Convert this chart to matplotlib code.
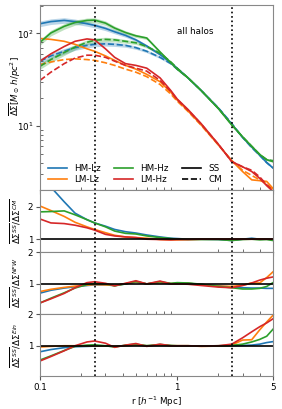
from matplotlib import pyplot as plt
from matplotlib import ticker
import numpy as np

plt.rcParams['figure.figsize'] = [2.82, 4.09]
plt.rcParams['figure.dpi'] = 100
plt.rcParams['font.size'] = 6.3
plt.rcParams['axes.edgecolor'] = '#888888'
plt.rcParams['xtick.color'] = '#555555'
plt.rcParams['ytick.color'] = '#555555'
plt.rcParams['xtick.labelcolor'] = 'black'
plt.rcParams['ytick.labelcolor'] = 'black'

r = [0.1, 0.12, 0.15, 0.18, 0.22, 0.25, 0.3, 0.35, 0.42, 0.5, 0.6, 0.75,
     0.9, 1.0, 1.2, 1.5, 2.0, 2.5, 3.0, 3.5, 4.0, 4.5, 5.0]

# mean Delta Sigma profiles, SS and CM centres
hm_lz_ss = [127, 134, 138, 134, 127, 122, 113, 104, 95, 85, 73, 59, 48, 42, 33, 24, 15.5, 10.4, 7.5, 5.9, 4.8, 4.0, 3.5]
hm_lz_cm = [50, 57, 64, 70, 74, 76, 77, 76, 74, 70, 64, 55, 47, 41, 33, 24, 15.6, 10.6, 7.5, 5.8, 4.8, 4.0, 3.5]
hm_hz_ss = [80, 101, 119, 131, 138, 139, 129, 114, 102, 94, 89, 63, 48, 41, 33, 24, 15.3, 10.2, 7.6, 6.0, 4.9, 4.3, 4.1]
hm_hz_cm = [44, 52, 62, 71, 80, 84, 86, 85, 82, 79, 72, 61, 49, 42, 33, 24, 15.4, 10.3, 7.6, 6.0, 4.9, 4.3, 4.2]
lm_lz_ss = [88, 86, 82, 76, 68, 64, 57, 51, 45, 41, 36, 30, 23, 19, 14.5, 10.2, 6.2, 4.2, 3.2, 2.6, 2.55, 2.5, 2.1]
lm_lz_cm = [46, 49, 52, 53, 52, 51, 48, 45, 41, 38, 34, 28, 22, 18.5, 14.3, 10.1, 6.2, 4.2, 3.3, 2.9, 2.6, 2.35, 2.05]
lm_hz_ss = [50, 60, 72, 82, 87, 85, 68, 55, 47, 45, 42, 33, 24, 19.5, 15, 10.5, 6.3, 4.1, 3.6, 3.2, 2.7, 2.25, 1.95]
lm_hz_cm = [31, 38, 47, 54, 58, 58, 55, 50, 45, 42, 39, 31, 23.5, 19.2, 14.8, 10.4, 6.3, 4.1, 3.6, 3.3, 2.8, 2.3, 1.98]

# fractional half width of the shaded bands (HM samples)
band_frac = [0.07, 0.07, 0.07, 0.065, 0.06, 0.06, 0.055, 0.05, 0.045, 0.04, 0.035, 0.03,
             0.025, 0.025, 0.02, 0.02, 0.02, 0.02, 0.02, 0.02, 0.02, 0.02, 0.02]

# SS / CM
ratio_cm = {
    "HM-Lz": [3.1, 2.6, 2.15, 1.8, 1.6, 1.5, 1.4, 1.3, 1.23, 1.19, 1.13, 1.07, 1.03, 1.02, 1.0, 1.0, 0.99, 0.96, 1.0, 1.03, 1.0, 1.0, 0.99],
    "LM-Lz": [2.02, 1.88, 1.7, 1.52, 1.38, 1.3, 1.2, 1.12, 1.07, 1.05, 1.03, 0.99, 0.98, 0.98, 0.99, 1.0, 1.0, 1.0, 1.0, 1.0, 1.01, 1.0, 1.0],
    "HM-Hz": [1.84, 1.85, 1.87, 1.75, 1.6, 1.5, 1.38, 1.25, 1.18, 1.16, 1.1, 1.05, 1.02, 1.0, 0.99, 0.99, 0.99, 0.96, 0.99, 1.0, 0.98, 0.99, 0.96],
    "LM-Hz": [1.62, 1.5, 1.48, 1.43, 1.35, 1.28, 1.15, 1.1, 1.07, 1.05, 1.0, 0.99, 0.98, 0.99, 0.99, 1.0, 1.0, 1.0, 1.0, 1.0, 1.0, 1.0, 1.0],
}
# SS / NFW fit
ratio_nfw = {
    "HM-Lz": [0.71, 0.8, 0.87, 0.91, 0.95, 0.97, 0.97, 0.95, 1.0, 1.06, 1.0, 1.04, 1.0, 1.01, 1.02, 0.98, 0.94, 0.9, 0.88, 0.87, 0.87, 0.86, 0.86],
    "LM-Lz": [0.76, 0.83, 0.89, 0.93, 0.96, 0.98, 0.97, 0.95, 1.01, 1.07, 1.0, 1.05, 1.01, 1.02, 1.02, 0.98, 0.93, 0.92, 0.96, 1.03, 1.03, 1.2, 1.38],
    "HM-Hz": [0.4, 0.55, 0.72, 0.87, 0.98, 1.02, 1.0, 0.94, 1.0, 1.08, 1.0, 1.07, 1.02, 1.04, 1.03, 0.99, 0.92, 0.88, 0.84, 0.84, 0.86, 0.92, 1.04],
    "LM-Hz": [0.4, 0.53, 0.7, 0.88, 1.04, 1.07, 1.02, 0.94, 1.02, 1.1, 1.0, 1.09, 1.0, 1.0, 0.99, 0.95, 0.9, 0.88, 0.95, 1.03, 1.12, 1.18, 1.22],
}
# SS / Einasto fit
ratio_ein = {
    "HM-Lz": [0.81, 0.88, 0.94, 0.97, 0.98, 0.99, 0.99, 0.98, 1.0, 1.02, 1.0, 1.01, 1.0, 0.99, 0.99, 0.99, 0.99, 1.0, 1.01, 1.02, 1.05, 1.1, 1.13],
    "LM-Lz": [0.96, 0.98, 1.0, 1.0, 1.0, 1.0, 0.99, 0.98, 1.0, 1.03, 1.0, 1.02, 1.0, 1.0, 1.0, 0.98, 0.99, 1.02, 1.18, 1.19, 1.5, 1.75, 1.96],
    "HM-Hz": [0.55, 0.68, 0.85, 0.98, 1.02, 1.03, 1.0, 0.96, 1.02, 1.05, 1.0, 1.04, 1.01, 1.0, 1.0, 0.99, 1.0, 1.01, 1.05, 1.12, 1.2, 1.3, 1.52],
    "LM-Hz": [0.52, 0.66, 0.84, 1.0, 1.12, 1.15, 1.08, 0.95, 1.02, 1.07, 0.98, 1.05, 1.0, 1.0, 1.0, 0.99, 1.0, 1.05, 1.25, 1.44, 1.6, 1.72, 1.85],
}

colors = {"HM-Lz": "tab:blue", "LM-Lz": "tab:orange", "HM-Hz": "tab:green", "LM-Hz": "tab:red"}
lw = 1.2
vlines = [0.25, 2.5]
ylabel_x = -0.073


def setup_x(ax):
    ax.set_xscale("log")
    ax.set_xlim(0.1, 5)
    ax.xaxis.set_major_locator(ticker.FixedLocator([0.1, 1, 5]))
    ax.xaxis.set_major_formatter(ticker.FixedFormatter(["0.1", "1", "5"]))
    ax.xaxis.set_minor_locator(ticker.LogLocator(subs=np.arange(2, 10)))
    ax.xaxis.set_minor_formatter(ticker.NullFormatter())
    ax.tick_params(which="minor", direction="in", length=2)
    ax.tick_params(which="major", length=3, pad=2)
    for v in vlines:
        ax.axvline(v, color="k", linestyle="dotted", linewidth=lw)


fig = plt.figure()
gs = fig.add_gridspec(4, 1, height_ratios=[3, 1, 1, 1], hspace=0,
                      left=0.142, right=0.968, top=0.988, bottom=0.081)
ax0 = fig.add_subplot(gs[0])
ax1 = fig.add_subplot(gs[1], sharex=ax0)
ax2 = fig.add_subplot(gs[2], sharex=ax0)
ax3 = fig.add_subplot(gs[3], sharex=ax0)

profiles = {
    "HM-Lz": (hm_lz_ss, hm_lz_cm),
    "LM-Lz": (lm_lz_ss, lm_lz_cm),
    "HM-Hz": (hm_hz_ss, hm_hz_cm),
    "LM-Hz": (lm_hz_ss, lm_hz_cm),
}
frac = np.array(band_frac)
handles = []
for name, (ss, cm) in profiles.items():
    c = colors[name]
    ss = np.array(ss)
    cm = np.array(cm)
    if name.startswith("HM"):
        ax0.fill_between(r, ss * (1 - frac), ss * (1 + frac), color=c, alpha=0.3, lw=0)
        ax0.fill_between(r, cm * (1 - frac), cm * (1 + frac), color=c, alpha=0.3, lw=0)
    h, = ax0.plot(r, ss, color=c, lw=lw, label=name)
    ax0.plot(r, cm, color=c, lw=lw, linestyle="--")
    handles.append(h)

ax0.set_yscale("log")
ax0.set_ylim(2.0, 203)
ax0.set_ylabel(r"$\overline{\Delta\Sigma} [M_\odot\, h/pc^2]$")
ax0.yaxis.set_label_coords(ylabel_x, 0.56)
ax0.text(0.59, 0.855, "all halos", transform=ax0.transAxes, va="center")
setup_x(ax0)
ax0.tick_params(axis="y", which="minor", direction="in", length=2)
ax0.tick_params(axis="y", which="major", pad=2)

ss_h, = ax0.plot([], [], color="k", lw=lw, label="SS")
cm_h, = ax0.plot([], [], color="k", lw=lw, linestyle="--", label="CM")
leg_handles = [handles[0], handles[1], handles[2], handles[3], ss_h, cm_h]
ax0.legend(leg_handles, [h.get_label() for h in leg_handles], ncol=3, frameon=False,
           loc="lower left", bbox_to_anchor=(0.0, -0.01),
           handlelength=2.2, columnspacing=1.5, labelspacing=0.3)

ratio_panels = [
    (ax1, ratio_cm, (0.6, 2.5), r"$\overline{\Delta\Sigma^{SS}}/\overline{\Delta\Sigma^{CM}}$"),
    (ax2, ratio_nfw, (0.05, 2.0), r"$\overline{\Delta\Sigma^{SS}}/\Delta\Sigma^{NFW}$"),
    (ax3, ratio_ein, (0.05, 2.0), r"$\overline{\Delta\Sigma^{SS}}/\Delta\Sigma^{Ein}$"),
]
for ax, ratios, ylim, label in ratio_panels:
    for name, vals in ratios.items():
        ax.plot(r, vals, color=colors[name], lw=lw)
    ax.axhline(1, color="k", lw=lw)
    ax.set_ylim(*ylim)
    ax.set_yticks([1, 2])
    ax.set_ylabel(label)
    ax.yaxis.set_label_coords(ylabel_x, 0.5)
    ax.tick_params(axis="y", pad=2)
    setup_x(ax)
ax2.axhline(2, color="k", lw=lw)

for ax in [ax0, ax1, ax2]:
    plt.setp(ax.get_xticklabels(), visible=False)
ax3.set_xlabel(r"r [$h^{-1}$ Mpc]", labelpad=2)

plt.savefig("out.png")
